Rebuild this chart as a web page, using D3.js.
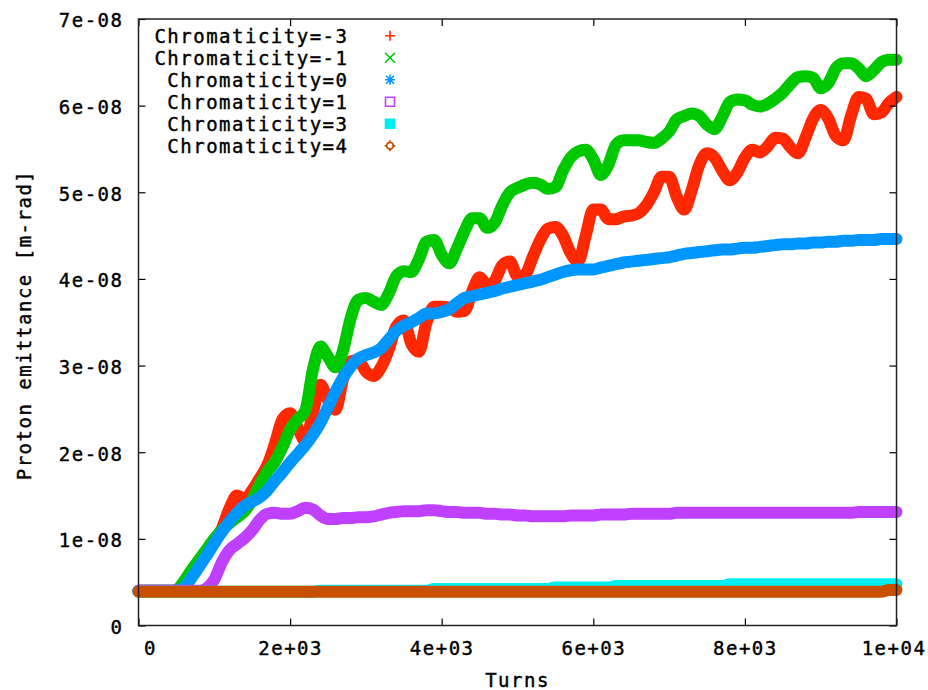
<!DOCTYPE html>
<html>
<head>
<meta charset="utf-8">
<script src="https://cdn.jsdelivr.net/npm/d3@7"></script>
<style>
  body { margin: 0; background: #fff; }
  text { font-family: "DejaVu Sans Mono", monospace; font-size: 19px; letter-spacing: 1.5px; fill: #000; stroke: #000; stroke-width: 0.4px; }
</style>
</head>
<body>
<div class="chart"></div>
<script>
// turns sampled every 100 (x values)
const turns = d3.range(0, 10001, 100);

// legend names
const chromaNames = ["Chromaticity=-3", "Chromaticity=-1", "Chromaticity=0",
  "Chromaticity=1", "Chromaticity=3", "Chromaticity=4"];

// emittance in units of 1e-9 m-rad
const emitM3 = [
  4.0, 4.0, 4.0, 4.0, 4.0, 4.1, 5.0, 6.2, 7.4, 8.6,
  9.8, 11.2, 13.5, 15.0, 14.6, 15.6, 17.0, 18.5, 21.0, 23.8,
  24.5, 22.8, 21.3, 24.5, 27.8, 26.0, 24.9, 28.5, 30.5, 30.6,
  29.3, 28.8, 29.8, 31.8, 34.5, 35.2, 32.5, 31.6, 35.0, 36.8,
  36.8, 36.7, 36.2, 36.3, 38.5, 40.2, 39.3, 39.8, 41.6, 42.0,
  40.3, 40.5, 42.5, 44.5, 45.8, 46.0, 45.0, 43.0, 42.0, 45.0,
  48.0, 48.0, 46.9, 46.9, 47.2, 47.3, 47.6, 48.5, 50.0, 51.8,
  51.8, 49.5, 48.0, 50.3, 53.2, 54.5, 54.0, 52.5, 51.4, 52.3,
  54.0, 54.9, 54.6, 55.3, 56.3, 56.2, 55.2, 54.5, 56.3, 58.5,
  59.5, 58.5, 56.5, 56.0, 58.8, 61.0, 60.8, 59.0, 59.2, 60.3,
  61.0
];
const emitM1 = [
  4.0, 4.0, 4.0, 4.0, 4.0, 4.1, 5.1, 6.4, 7.6, 8.8,
  10.0, 11.0, 11.8, 12.5, 13.2, 14.5, 16.3, 17.8, 18.9, 20.6,
  22.6, 23.8, 24.8, 29.5, 32.2, 31.0, 29.8, 31.8, 35.5, 37.6,
  37.8, 37.4, 37.0, 38.3, 40.3, 40.9, 40.8, 42.3, 44.3, 44.5,
  42.8, 41.8, 43.5, 45.5, 47.0, 47.0, 45.9, 46.5, 48.5, 50.0,
  50.5, 50.9, 51.1, 50.9, 50.4, 50.6, 52.5, 54.0, 54.7, 54.9,
  53.8, 52.0, 53.2, 55.5, 56.0, 56.0, 56.0, 55.8, 55.7, 56.2,
  57.0, 58.4, 58.8, 59.1, 58.8, 57.8, 57.3, 58.7, 60.4, 60.7,
  60.6, 60.1, 59.9, 60.2, 60.8, 61.5, 62.5, 63.3, 63.4, 63.2,
  62.0, 62.6, 64.3, 64.9, 64.9, 64.3, 63.4, 64.1, 65.0, 65.3,
  65.3
];
const emit0 = [
  4.0, 4.0, 4.0, 4.0, 4.0, 4.0, 4.4, 5.5, 6.8, 8.1,
  9.5, 10.8, 12.0, 13.0, 13.8, 14.3, 14.8, 15.6, 16.7, 17.7,
  18.8, 19.8, 20.8, 22.0, 23.4, 25.2, 27.0, 28.6, 29.9, 30.8,
  31.2, 31.5, 32.0, 33.0, 34.0, 34.6, 35.0, 35.5, 36.0, 36.0,
  36.2, 36.5, 37.2, 37.8, 38.0, 38.2, 38.4, 38.6, 38.9, 39.1,
  39.3, 39.5, 39.7, 39.9, 40.2, 40.5, 40.8, 41.0, 41.1, 41.1,
  41.1, 41.3, 41.5, 41.7, 41.9, 42.0, 42.1, 42.2, 42.3, 42.4,
  42.5, 42.7, 42.9, 43.0, 43.1, 43.2, 43.3, 43.4, 43.4, 43.5,
  43.6, 43.6, 43.7, 43.8, 43.9, 44.0, 44.0, 44.1, 44.1, 44.2,
  44.2, 44.3, 44.3, 44.4, 44.4, 44.5, 44.5, 44.5, 44.6, 44.6,
  44.6
];
const emit1 = [
  4.0, 4.0, 4.0, 4.0, 4.0, 4.0, 4.0, 4.0, 4.0, 4.3,
  5.3, 7.3, 8.7, 9.4, 10.1, 11.0, 12.2, 12.9, 13.0, 12.9,
  12.9, 13.2, 13.6, 13.4, 12.7, 12.3, 12.3, 12.4, 12.4, 12.5,
  12.5, 12.6, 12.8, 13.0, 13.1, 13.2, 13.2, 13.2, 13.3, 13.3,
  13.2, 13.1, 13.1, 13.0, 13.0, 13.0, 12.9, 12.9, 12.8, 12.8,
  12.7, 12.7, 12.6, 12.6, 12.6, 12.6, 12.6, 12.7, 12.7, 12.7,
  12.7, 12.8, 12.8, 12.8, 12.8, 12.9, 12.9, 12.9, 12.9, 12.9,
  12.9, 13.0, 13.0, 13.0, 13.0, 13.0, 13.0, 13.0, 13.0, 13.0,
  13.0, 13.0, 13.0, 13.0, 13.0, 13.0, 13.0, 13.0, 13.0, 13.0,
  13.0, 13.0, 13.0, 13.0, 13.0, 13.1, 13.1, 13.1, 13.1, 13.1,
  13.1
];
const emit3 = [
  3.9, 3.9, 3.9, 3.9, 3.9, 3.9, 3.9, 3.9, 3.9, 3.9,
  3.9, 3.9, 3.9, 3.9, 3.9, 3.9, 3.9, 3.9, 3.9, 3.9,
  3.9, 3.9, 3.9, 3.9, 4.02, 4.02, 4.02, 4.02, 4.02, 4.02,
  4.02, 4.02, 4.02, 4.02, 4.02, 4.02, 4.02, 4.02, 4.02, 4.2,
  4.2, 4.2, 4.2, 4.2, 4.2, 4.2, 4.2, 4.2, 4.2, 4.2,
  4.2, 4.2, 4.2, 4.2, 4.2, 4.4, 4.4, 4.4, 4.4, 4.4,
  4.4, 4.4, 4.4, 4.55, 4.55, 4.55, 4.55, 4.55, 4.55, 4.55,
  4.55, 4.55, 4.55, 4.55, 4.55, 4.55, 4.55, 4.55, 4.75, 4.75,
  4.75, 4.75, 4.75, 4.75, 4.75, 4.75, 4.75, 4.75, 4.75, 4.75,
  4.75, 4.75, 4.75, 4.75, 4.75, 4.75, 4.75, 4.75, 4.75, 4.75,
  4.75
];
const emit4 = [
  3.9, 3.9, 3.9, 3.9, 3.9, 3.9, 3.9, 3.9, 3.9, 3.9,
  3.9, 3.9, 3.9, 3.9, 3.9, 3.9, 3.9, 3.9, 3.9, 3.9,
  3.9, 3.9, 3.9, 3.9, 3.9, 3.9, 3.9, 3.9, 3.9, 3.9,
  3.9, 3.9, 3.9, 3.9, 3.9, 3.9, 3.9, 3.9, 3.9, 3.9,
  3.9, 3.9, 3.9, 3.9, 3.9, 3.9, 3.9, 3.9, 3.9, 3.9,
  3.9, 3.9, 3.9, 3.9, 3.9, 3.9, 3.9, 3.9, 3.9, 3.9,
  3.9, 3.9, 3.9, 3.9, 3.9, 3.9, 3.9, 3.9, 3.9, 3.9,
  3.9, 3.9, 3.9, 3.9, 3.9, 3.9, 3.9, 3.9, 3.9, 3.9,
  3.9, 3.9, 3.9, 3.9, 3.9, 3.9, 3.9, 3.9, 3.9, 3.9,
  3.9, 3.9, 3.9, 3.9, 3.9, 3.9, 3.9, 3.9, 3.9, 4.1,
  4.1
];

// ticks
const xTickValues = [0, 2000, 4000, 6000, 8000, 10000];
const xTickLabels = ["0", "2e+03", "4e+03", "6e+03", "8e+03", "1e+04"];
const yTickValues = [0, 1e-8, 2e-8, 3e-8, 4e-8, 5e-8, 6e-8, 7e-8];
const yTickLabels = ["0", "1e-08", "2e-08", "3e-08", "4e-08", "5e-08", "6e-08", "7e-08"];

// colours and legend symbols, in plotting order
const colors = ["#ff2800", "#00c800", "#0096ff", "#c040ff", "#00eeee", "#c85000"];
const symbols = ["plus", "cross", "star", "box", "fbox", "gear"];

const series = [emitM3, emitM1, emit0, emit1, emit3, emit4].map((v, i) => ({
  name: chromaNames[i], values: v, color: colors[i], symbol: symbols[i]
}));

// size of the chart
const w = 928, h = 690;
const margin = { top: 19, right: 31.5, bottom: 64.5, left: 138.5 };

const svg = d3.select("div.chart")
  .append("svg")
  .attr("width", w)
  .attr("height", h);

const x = d3.scaleLinear().domain([0, 10000]).range([margin.left, w - margin.right]);
const y = d3.scaleLinear().domain([0, 7e-8]).range([h - margin.bottom, margin.top]);

// data bands (gnuplot draws dense points, looks like a thick line)
const line = d3.line()
  .x((d, i) => x(turns[i]))
  .y(d => y(d * 1e-9))
  .curve(d3.curveMonotoneX);

svg.append("g")
  .selectAll("path")
  .data(series)
  .enter()
  .append("path")
  .attr("d", d => line(d.values))
  .attr("fill", "none")
  .attr("stroke", d => d.color)
  .attr("stroke-width", 12)
  .attr("stroke-linejoin", "round")
  .attr("stroke-linecap", "round");

// axes, ticks pointing inwards, mirrored on top / right
const xAxis = svg.append("g")
  .attr("transform", `translate(0,${y(0)})`)
  .call(d3.axisBottom(x).tickValues(xTickValues)
    .tickFormat((d, i) => xTickLabels[i])
    .tickSizeInner(-7).tickSizeOuter(0).tickPadding(16));
xAxis.selectAll(".tick text")
  .attr("dx", (d, i) => i === 0 ? 11.5 : (i === xTickValues.length - 1 ? -3 : 0));

svg.append("g")
  .attr("transform", `translate(${x(0)},0)`)
  .call(d3.axisLeft(y).tickValues(yTickValues)
    .tickFormat((d, i) => yTickLabels[i])
    .tickSizeInner(-7).tickSizeOuter(0).tickPadding(15))
  .selectAll("text").attr("dy", "0.42em");

svg.append("g")
  .attr("transform", `translate(0,${y(7e-8)})`)
  .call(d3.axisTop(x).tickValues(xTickValues).tickFormat("")
    .tickSizeInner(-7).tickSizeOuter(0));

svg.append("g")
  .attr("transform", `translate(${x(10000)},0)`)
  .call(d3.axisRight(y).tickValues(yTickValues).tickFormat("")
    .tickSizeInner(-7).tickSizeOuter(0));

svg.selectAll(".domain").remove();
svg.selectAll(".tick line").attr("stroke", "#000").attr("stroke-width", 1.2);

// border
svg.append("rect")
  .attr("x", x(0))
  .attr("y", y(7e-8))
  .attr("width", x(10000) - x(0))
  .attr("height", y(0) - y(7e-8))
  .attr("fill", "none")
  .attr("stroke", "#222")
  .attr("stroke-width", 1.5);

// axis titles
svg.append("text")
  .attr("x", (x(0) + x(10000)) / 2)
  .attr("y", 687)
  .attr("text-anchor", "middle")
  .text("Turns");

svg.append("text")
  .attr("transform", "rotate(-90)")
  .attr("x", -325)
  .attr("y", 31)
  .attr("text-anchor", "middle")
  .text("Proton emittance [m-rad]");

// legend
const legend = svg.append("g")
  .selectAll("g")
  .data(series)
  .enter()
  .append("g")
  .attr("transform", (d, i) => `translate(0,${35.7 + i * 22})`);

legend.append("text")
  .attr("x", 348.5)
  .attr("y", 7)
  .attr("text-anchor", "end")
  .text(d => d.name);

const symbolPath = {
  plus: "M-5,0H5M0,-5V5",
  cross: "M-5,-5L5,5M5,-5L-5,5",
  star: "M-5,0H5M0,-5V5M-4,-4L4,4M4,-4L-4,4",
  box: "M-4.5,-4.5H4.5V4.5H-4.5Z",
  fbox: "M-4.5,-4.5H4.5V4.5H-4.5Z",
  gear: "M0,-5.5V-3.5M0,3.5V5.5M-5.5,0H-3.5M3.5,0H5.5"
};

legend.append("path")
  .attr("transform", "translate(390,0)")
  .attr("d", d => symbolPath[d.symbol])
  .attr("fill", d => d.symbol === "fbox" ? d.color : "none")
  .attr("stroke", d => d.color)
  .attr("stroke-width", 1.6);

legend.filter(d => d.symbol === "gear")
  .append("circle")
  .attr("cx", 390)
  .attr("r", 3.3)
  .attr("fill", "none")
  .attr("stroke", d => d.color)
  .attr("stroke-width", 1.8);
</script>
</body>
</html>
